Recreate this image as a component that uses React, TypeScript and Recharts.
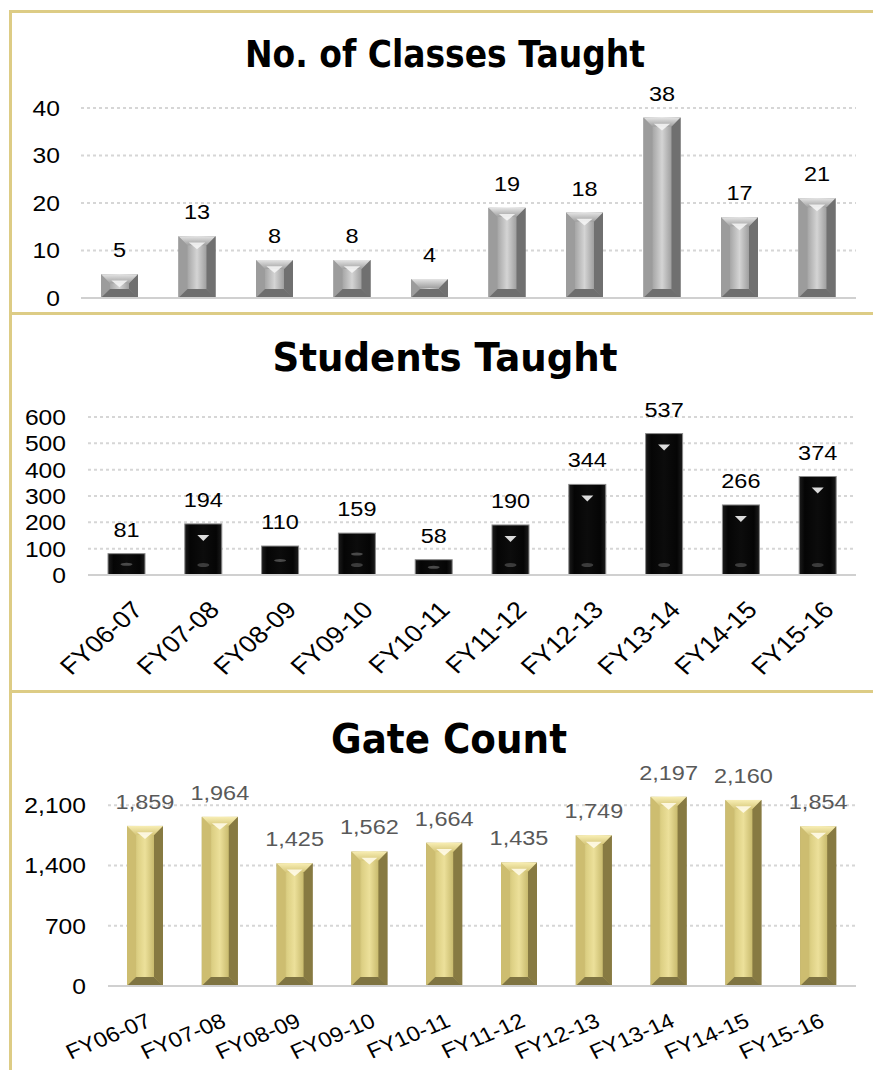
import React from 'react';
import { BarChart, Bar, XAxis, YAxis, CartesianGrid, LabelList } from 'recharts';

const categories = ['FY06-07', 'FY07-08', 'FY08-09', 'FY09-10', 'FY10-11', 'FY11-12', 'FY12-13', 'FY13-14', 'FY14-15', 'FY15-16'];
const classesTaught = [5, 13, 8, 8, 4, 19, 18, 38, 17, 21];
const studentsTaught = [81, 194, 110, 159, 58, 190, 344, 537, 266, 374];
const gateCount = [1859, 1964, 1425, 1562, 1664, 1435, 1749, 2197, 2160, 1854];
const classTicks = [0, 10, 20, 30, 40];
const studentTicks = [0, 100, 200, 300, 400, 500, 600];
const gateTicks = [0, 700, 1400, 2100];

const data1 = categories.map((c, i) => ({ cat: c, v: classesTaught[i] }));
const data2 = categories.map((c, i) => ({ cat: c, v: studentsTaught[i] }));
const data3 = categories.map((c, i) => ({ cat: c, v: gateCount[i] }));

const BORDER = '#DDCC85';
const FONT = '"Liberation Sans", Arial, sans-serif';
const TITLE_FONT = '"DejaVu Sans", Verdana, sans-serif';
const SX = 1.12;
const fmt = (n: number) => n.toLocaleString('en-US');

type Pal = {
  id: string; bottom: string; left: string; right: string; d: number; chevron: string;
};

const makeShape = (p: Pal) => (props: any) => {
  const { x, y, width: w, height: h } = props;
  if (!h || h <= 0) return null;
  const d = Math.min(p.d, w / 2, h / 2);
  const cx = x + w / 2;
  return (
    <g>
      <rect x={x} y={y} width={w} height={h} fill={`url(#${p.id})`} />
      <polygon points={`${x},${y} ${x + d},${y + d} ${x + d},${y + h - d} ${x},${y + h}`} fill={p.left} />
      <polygon points={`${x + w},${y} ${x + w - d},${y + d} ${x + w - d},${y + h - d} ${x + w},${y + h}`} fill={p.right} />
      <polygon points={`${x},${y} ${x + w},${y} ${x + w - d},${y + d} ${x + d},${y + d}`} fill={`url(#${p.id}t)`} />
      <polygon points={`${x},${y + h} ${x + w},${y + h} ${x + w - d},${y + h - d} ${x + d},${y + h - d}`} fill={p.bottom} />
      {h > 2 * d + 4 ? (
        <polygon points={`${cx - w * 0.22},${y + d * 0.7} ${cx + w * 0.22},${y + d * 0.7} ${cx},${y + d + 4}`} fill={p.chevron} opacity={0.9} />
      ) : null}
    </g>
  );
};

const grayPal: Pal = { id: 'gGray', bottom: '#6e6e6e', left: '#9c9c9c', right: '#707070', d: 9, chevron: '#f4f4f4' };
const goldPal: Pal = { id: 'gGold', bottom: '#7f7442', left: '#cdbd70', right: '#877a42', d: 9, chevron: '#fffbe8' };

const blackShape = (props: any) => {
  const { x, y, width: w, height: h } = props;
  if (!h || h <= 0) return null;
  const cx = x + w / 2;
  return (
    <g>
      <rect x={x} y={y} width={w} height={h} fill="url(#gBlack)" stroke="#8a8a8a" strokeWidth={1} />
      {h > 50 ? (
        <polygon points={`${cx - 6},${y + 11} ${cx + 6},${y + 11} ${cx},${y + 17}`} fill="#dcdcdc" />
      ) : (
        <ellipse cx={cx} cy={y + h / 2} rx={6} ry={1.5} fill="#4a4a4a" />
      )}
      {h > 30 ? <ellipse cx={cx} cy={y + h - 10} rx={6} ry={2} fill="#3c3c3c" /> : null}
    </g>
  );
};

const makeLabel = (color: string, format: (n: number) => string) => (props: any) => {
  const { x, y, width, value } = props;
  return (
    <text transform={`translate(${x + width / 2}, ${y - 17}) scale(${SX}, 1)`} textAnchor="middle" fontFamily={FONT} fontSize={21} fill={color}>
      {format(value)}
    </text>
  );
};

const YTick = (format: (n: number) => string) => (props: any) => {
  const { x, y, payload } = props;
  return (
    <text transform={`translate(${x}, ${y}) scale(${SX}, 1)`} dy="0.36em" textAnchor="end" fontFamily={FONT} fontSize={22} fill="#000">
      {format(payload.value)}
    </text>
  );
};

const RotTick = (angle: number, dx: number, dy: number, fs: number) => (props: any) => {
  const { x, y, payload } = props;
  const px = x + dx;
  const py = y + dy;
  return (
    <text dy="0.72em" textAnchor="end" fontFamily={FONT} fontSize={fs} fill="#000" transform={`translate(${px}, ${py}) scale(${SX}, 1) rotate(${angle})`}>
      {payload.value}
    </text>
  );
};

const Defs = () => (
  <defs>
    <linearGradient id="gGray" x1="0" y1="0" x2="1" y2="0">
      <stop offset="0%" stopColor="#7a7a7a" />
      <stop offset="30%" stopColor="#b0b0b0" />
      <stop offset="50%" stopColor="#d4d4d4" />
      <stop offset="75%" stopColor="#a0a0a0" />
      <stop offset="100%" stopColor="#666666" />
    </linearGradient>
    <linearGradient id="gGrayt" x1="0" y1="0" x2="0" y2="1">
      <stop offset="0%" stopColor="#e4e4e4" />
      <stop offset="100%" stopColor="#a0a0a0" />
    </linearGradient>
    <linearGradient id="gGold" x1="0" y1="0" x2="1" y2="0">
      <stop offset="0%" stopColor="#a69a58" />
      <stop offset="30%" stopColor="#ddd084" />
      <stop offset="50%" stopColor="#ece09a" />
      <stop offset="75%" stopColor="#c9bb6e" />
      <stop offset="100%" stopColor="#8a7e47" />
    </linearGradient>
    <linearGradient id="gGoldt" x1="0" y1="0" x2="0" y2="1">
      <stop offset="0%" stopColor="#f8eeb4" />
      <stop offset="100%" stopColor="#d6c77a" />
    </linearGradient>
    <linearGradient id="gBlack" x1="0" y1="0" x2="1" y2="0">
      <stop offset="0%" stopColor="#1c1c1c" />
      <stop offset="15%" stopColor="#050505" />
      <stop offset="50%" stopColor="#0c0c0c" />
      <stop offset="85%" stopColor="#050505" />
      <stop offset="100%" stopColor="#1c1c1c" />
    </linearGradient>
  </defs>
);

const gridProps = { vertical: false, stroke: '#d6d6d6', strokeDasharray: '3 3', strokeWidth: 2 };

export default function App() {
  return (
    <div style={{ position: 'absolute', left: 0, top: 0, width: 873, height: 1070, background: '#fff', overflow: 'hidden' }}>
      <svg width={873} height={1070} style={{ position: 'absolute', left: 0, top: 0 }}>
        <rect x={9} y={10} width={3} height={1060} fill={BORDER} />
        <rect x={9} y={10} width={864} height={3} fill={BORDER} />
        <rect x={9} y={312} width={864} height={3} fill={BORDER} />
        <rect x={9} y={690} width={864} height={3} fill={BORDER} />
        <text x={445} y={67} textAnchor="middle" fontFamily={TITLE_FONT} fontWeight="bold" fontSize={37} textLength={400} lengthAdjust="spacingAndGlyphs" fill="#000">No. of Classes Taught</text>
        <text x={445} y={371} textAnchor="middle" fontFamily={TITLE_FONT} fontWeight="bold" fontSize={39} textLength={345} lengthAdjust="spacingAndGlyphs" fill="#000">Students Taught</text>
        <text x={449} y={753} textAnchor="middle" fontFamily={TITLE_FONT} fontWeight="bold" fontSize={40} textLength={236} lengthAdjust="spacingAndGlyphs" fill="#000">Gate Count</text>
      </svg>

      <div style={{ position: 'absolute', left: 0, top: 0 }}>
        <BarChart width={873} height={312} data={data1} margin={{ top: 108, right: 17, bottom: 13, left: 0 }}>
          <Defs />
          <CartesianGrid {...gridProps} horizontalValues={classTicks} />
          <XAxis dataKey="cat" tick={false} tickLine={false} axisLine={{ stroke: '#d0d0d0', strokeWidth: 2 }} height={1} />
          <YAxis width={81} domain={[0, 40]} ticks={classTicks} tick={YTick((n) => String(n))} tickLine={false} axisLine={false} tickMargin={15} interval={0} />
          <Bar dataKey="v" barSize={37} isAnimationActive={false} shape={makeShape(grayPal)}>
            <LabelList dataKey="v" content={makeLabel('#000', (n) => String(n))} />
          </Bar>
        </BarChart>
      </div>

      <div style={{ position: 'absolute', left: 0, top: 315 }}>
        <BarChart width={873} height={375} data={data2} margin={{ top: 102, right: 17, bottom: 5, left: 0 }}>
          <Defs />
          <CartesianGrid {...gridProps} horizontalValues={studentTicks} />
          <XAxis dataKey="cat" tick={RotTick(-45, 4, 16, 24)} tickLine={false} axisLine={{ stroke: '#d0d0d0', strokeWidth: 2 }} height={110} interval={0} />
          <YAxis width={88} domain={[0, 600]} ticks={studentTicks} tick={YTick((n) => String(n))} tickLine={false} axisLine={false} tickMargin={16} interval={0} />
          <Bar dataKey="v" barSize={37} isAnimationActive={false} shape={blackShape}>
            <LabelList dataKey="v" content={makeLabel('#000', (n) => String(n))} />
          </Bar>
        </BarChart>
      </div>

      <div style={{ position: 'absolute', left: 0, top: 693 }}>
        <BarChart width={873} height={377} data={data3} margin={{ top: 82, right: 17, bottom: 4, left: 0 }}>
          <Defs />
          <CartesianGrid {...gridProps} horizontalValues={gateTicks} />
          <XAxis dataKey="cat" tick={RotTick(-25, 0, 18, 21)} tickLine={false} axisLine={{ stroke: '#d0d0d0', strokeWidth: 2 }} height={80} interval={0} />
          <YAxis width={108} domain={[0, 2450]} ticks={gateTicks} tick={YTick(fmt)} tickLine={false} axisLine={false} tickMargin={16} interval={0} allowDataOverflow />
          <Bar dataKey="v" barSize={36} isAnimationActive={false} shape={makeShape(goldPal)}>
            <LabelList dataKey="v" content={makeLabel('#595959', fmt)} />
          </Bar>
        </BarChart>
      </div>
    </div>
  );
}
